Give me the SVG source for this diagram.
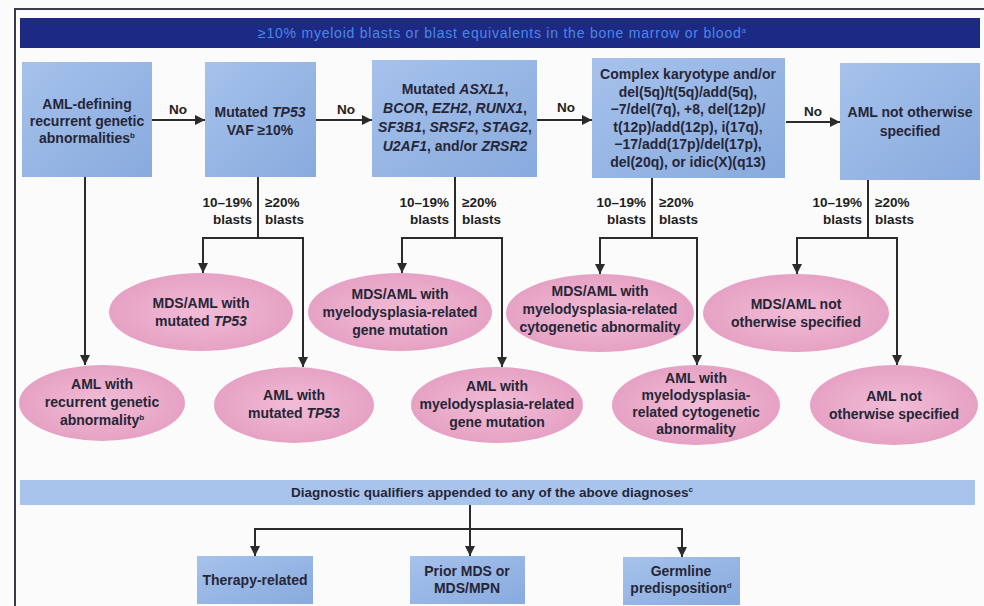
<svg xmlns="http://www.w3.org/2000/svg" width="984" height="606" viewBox="0 0 984 606">
<defs>
<linearGradient id="gBox" x1="0" y1="0" x2="1" y2="1">
<stop offset="0" stop-color="#a6c2ec"/>
<stop offset="1" stop-color="#88aadd"/>
</linearGradient>
<radialGradient id="gEl" cx="0.5" cy="0.5" r="0.6">
<stop offset="0" stop-color="#f1bcd6"/>
<stop offset="1" stop-color="#e49cc0"/>
</radialGradient>
<marker id="arr" viewBox="0 0 10 10" refX="10" refY="5" markerWidth="10" markerHeight="10" markerUnits="userSpaceOnUse" orient="auto">
<path d="M0,0 L10,5 L0,10 z" fill="#2b2b2b"/>
</marker>
<style>
.box{fill:url(#gBox);}
.el{fill:url(#gEl);}
.t{font-family:"Liberation Sans",Arial,sans-serif;font-size:14px;font-weight:bold;fill:#262637;text-anchor:middle;}
.s{font-family:"Liberation Sans",Arial,sans-serif;font-size:13.5px;font-weight:bold;fill:#1e1e1e;}
.i{font-style:italic;}
.sup{font-size:8px;}
.c{fill:none;stroke:#2b2b2b;stroke-width:2;}
.ca{fill:none;stroke:#2b2b2b;stroke-width:2;marker-end:url(#arr);}
</style>
</defs>
<rect x="0" y="0" width="984" height="606" fill="#fbfbfb"/>
<path d="M15,606 V9 H984" fill="none" stroke="#3a3a4a" stroke-width="2"/>

<g id="banner-top">
<rect x="20" y="18" width="960" height="30" fill="#1c2a84"/>
<text x="258" y="38" font-family="'Liberation Sans',Arial,sans-serif" font-size="14" fill="#4a88ea" textLength="488" lengthAdjust="spacing">≥10% myeloid blasts or blast equivalents in the bone marrow or blood<tspan font-size="8" dy="-5">a</tspan></text>
</g>

<g id="box1">
<rect class="box" x="22" y="62" width="130" height="115"/>
<text class="t" x="87" y="109">AML-defining</text>
<text class="t" x="87" y="126">recurrent genetic</text>
<text class="t" x="87" y="143">abnormalities<tspan class="sup" dy="-5">b</tspan></text>
</g>
<g id="box2">
<rect class="box" x="205" y="62" width="111" height="115"/>
<text class="t" x="260" y="117">Mutated <tspan class="i">TP53</tspan></text>
<text class="t" x="260" y="135">VAF ≥10%</text>
</g>
<g id="box3">
<rect class="box" x="372" y="60" width="165" height="117"/>
<text class="t" x="455" y="94">Mutated <tspan class="i">ASXL1</tspan>,</text>
<text class="t" x="455" y="113"><tspan class="i">BCOR</tspan>, <tspan class="i">EZH2</tspan>, <tspan class="i">RUNX1</tspan>,</text>
<text class="t" x="455" y="132"><tspan class="i">SF3B1</tspan>, <tspan class="i">SRSF2</tspan>, <tspan class="i">STAG2</tspan>,</text>
<text class="t" x="455" y="151"><tspan class="i">U2AF1</tspan>, and/or <tspan class="i">ZRSR2</tspan></text>
</g>
<g id="box4">
<rect class="box" x="592" y="58" width="193" height="120"/>
<text class="t" x="688" y="79">Complex karyotype and/or</text>
<text class="t" x="688" y="97">del(5q)/t(5q)/add(5q),</text>
<text class="t" x="688" y="114">−7/del(7q), +8, del(12p)/</text>
<text class="t" x="688" y="132">t(12p)/add(12p), i(17q),</text>
<text class="t" x="688" y="149">−17/add(17p)/del(17p),</text>
<text class="t" x="688" y="167">del(20q), or idic(X)(q13)</text>
</g>
<g id="box5">
<rect class="box" x="840" y="63" width="140" height="117"/>
<text class="t" x="910" y="117">AML not otherwise</text>
<text class="t" x="910" y="136">specified</text>
</g>

<g id="e-mds-tp53">
<ellipse class="el" cx="201" cy="312" rx="92" ry="39"/>
<text class="t" x="201" y="308">MDS/AML with</text>
<text class="t" x="201" y="326">mutated <tspan class="i">TP53</tspan></text>
</g>
<g id="e-mds-gene">
<ellipse class="el" cx="400" cy="312" rx="92" ry="39"/>
<text class="t" x="400" y="299">MDS/AML with</text>
<text class="t" x="400" y="317">myelodysplasia-related</text>
<text class="t" x="400" y="335">gene mutation</text>
</g>
<g id="e-mds-cyto">
<ellipse class="el" cx="600" cy="313" rx="94" ry="39"/>
<text class="t" x="600" y="296">MDS/AML with</text>
<text class="t" x="600" y="314">myelodysplasia-related</text>
<text class="t" x="600" y="332">cytogenetic abnormality</text>
</g>
<g id="e-mds-nos">
<ellipse class="el" cx="796" cy="313" rx="93" ry="39"/>
<text class="t" x="796" y="309">MDS/AML not</text>
<text class="t" x="796" y="327">otherwise specified</text>
</g>

<g id="e-aml-recurrent">
<ellipse class="el" cx="102" cy="403" rx="83" ry="38"/>
<text class="t" x="102" y="389">AML with</text>
<text class="t" x="102" y="407">recurrent genetic</text>
<text class="t" x="102" y="425">abnormality<tspan class="sup" dy="-5">b</tspan></text>
</g>
<g id="e-aml-tp53">
<ellipse class="el" cx="294" cy="405" rx="80" ry="38"/>
<text class="t" x="294" y="400">AML with</text>
<text class="t" x="294" y="418">mutated <tspan class="i">TP53</tspan></text>
</g>
<g id="e-aml-gene">
<ellipse class="el" cx="497" cy="405" rx="86" ry="38"/>
<text class="t" x="497" y="391">AML with</text>
<text class="t" x="497" y="409">myelodysplasia-related</text>
<text class="t" x="497" y="427">gene mutation</text>
</g>
<g id="e-aml-cyto">
<ellipse class="el" cx="696" cy="405" rx="84" ry="40"/>
<text class="t" x="696" y="383">AML with</text>
<text class="t" x="696" y="400">myelodysplasia-</text>
<text class="t" x="696" y="417">related cytogenetic</text>
<text class="t" x="696" y="434">abnormality</text>
</g>
<g id="e-aml-nos">
<ellipse class="el" cx="894" cy="405" rx="84" ry="40"/>
<text class="t" x="894" y="401">AML not</text>
<text class="t" x="894" y="419">otherwise specified</text>
</g>

<g id="banner-bottom">
<rect x="20" y="480" width="955" height="25" fill="#a9c4ec"/>
<text class="t" x="492" y="497" style="font-size:13.5px">Diagnostic qualifiers appended to any of the above diagnoses<tspan class="sup" dy="-5">c</tspan></text>
</g>
<g id="q-therapy">
<rect class="box" x="197" y="556" width="116" height="48"/>
<text class="t" x="255" y="585">Therapy-related</text>
</g>
<g id="q-prior">
<rect class="box" x="410" y="556" width="115" height="48"/>
<text class="t" x="467" y="576">Prior MDS or</text>
<text class="t" x="467" y="593">MDS/MPN</text>
</g>
<g id="q-germline">
<rect class="box" x="623" y="557" width="117" height="48"/>
<text class="t" x="681" y="576">Germline</text>
<text class="t" x="681" y="593">predisposition<tspan class="sup" dy="-5">d</tspan></text>
</g>

<g id="connectors">
<path class="ca" d="M152,120 H205"/>
<path class="ca" d="M316,120 H372"/>
<path class="ca" d="M537,120 H592"/>
<path class="ca" d="M786,122 H840"/>
<text class="s" x="178" y="114" text-anchor="middle">No</text>
<text class="s" x="346" y="114" text-anchor="middle">No</text>
<text class="s" x="566" y="112" text-anchor="middle">No</text>
<text class="s" x="813" y="116" text-anchor="middle">No</text>

<path class="ca" d="M85,177 V365"/>

<path class="c" d="M258,177 V238 M202,238 H304"/>
<path class="ca" d="M203,237 V273"/>
<path class="ca" d="M303,237 V367"/>
<text class="s" x="252" y="207" text-anchor="end">10–19%</text>
<text class="s" x="252" y="224" text-anchor="end">blasts</text>
<text class="s" x="265" y="207">≥20%</text>
<text class="s" x="265" y="224">blasts</text>

<path class="c" d="M455,177 V238 M401,238 H503"/>
<path class="ca" d="M402,237 V273"/>
<path class="ca" d="M502,237 V367"/>
<text class="s" x="449" y="207" text-anchor="end">10–19%</text>
<text class="s" x="449" y="224" text-anchor="end">blasts</text>
<text class="s" x="462" y="207">≥20%</text>
<text class="s" x="462" y="224">blasts</text>

<path class="c" d="M652,178 V238 M599,238 H698"/>
<path class="ca" d="M600,237 V274"/>
<path class="ca" d="M697,237 V365"/>
<text class="s" x="646" y="207" text-anchor="end">10–19%</text>
<text class="s" x="646" y="224" text-anchor="end">blasts</text>
<text class="s" x="659" y="207">≥20%</text>
<text class="s" x="659" y="224">blasts</text>

<path class="c" d="M868,180 V238 M796,238 H898"/>
<path class="ca" d="M797,237 V274"/>
<path class="ca" d="M897,237 V365"/>
<text class="s" x="862" y="207" text-anchor="end">10–19%</text>
<text class="s" x="862" y="224" text-anchor="end">blasts</text>
<text class="s" x="875" y="207">≥20%</text>
<text class="s" x="875" y="224">blasts</text>

<path class="c" d="M470,505 V529 M254,529 H683"/>
<path class="ca" d="M255,528 V556"/>
<path class="ca" d="M470,528 V556"/>
<path class="ca" d="M682,528 V557"/>
</g>
</svg>
